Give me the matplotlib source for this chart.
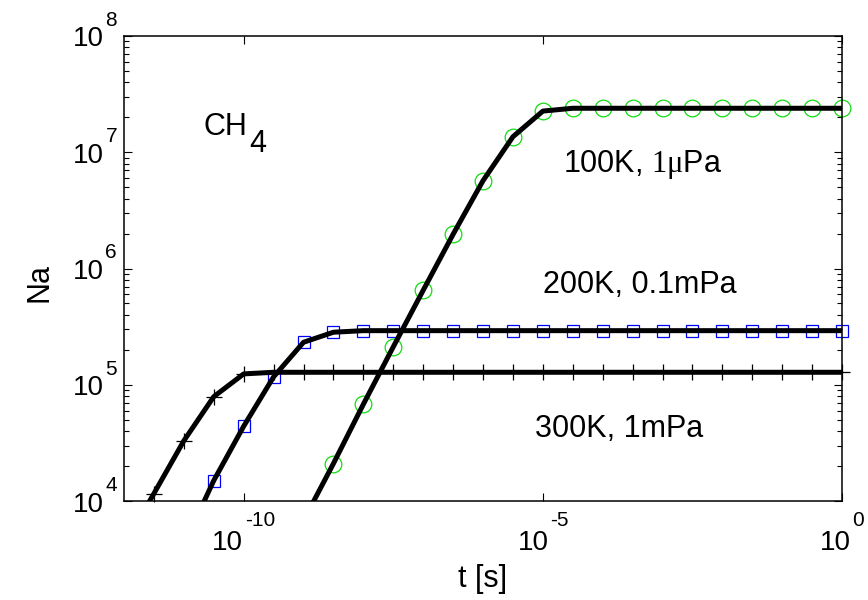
import numpy as np
import matplotlib
matplotlib.use('Agg')
import matplotlib.pyplot as plt
from matplotlib.ticker import LogLocator, NullLocator, NullFormatter
from matplotlib.transforms import offset_copy

plt.rcParams['font.family'] = ['Liberation Sans', 'DejaVu Sans']
plt.rcParams['mathtext.fontset'] = 'custom'
plt.rcParams['mathtext.rm'] = 'Liberation Serif'
plt.rcParams['mathtext.default'] = 'regular'

# time grid (half decades), shared by all three runs
t = [1e-12, 3.16e-12, 1e-11, 3.16e-11, 1e-10, 3.16e-10, 1e-9, 3.16e-9, 1e-8,
     3.16e-8, 1e-7, 3.16e-7, 1e-6, 3.16e-6, 1e-5, 3.16e-5, 1e-4, 3.16e-4,
     1e-3, 3.16e-3, 1e-2, 3.16e-2, 1e-1, 3.16e-1, 1e0]

nan = np.nan
# 300K, 1mPa
n_300 = [4.1e3, 1.16e4, 3.3e4, 7.9e4, 1.24e5, 1.28e5, 1.28e5, 1.28e5, 1.28e5,
         1.28e5, 1.28e5, 1.28e5, 1.28e5, 1.28e5, 1.28e5, 1.28e5, 1.28e5, 1.28e5,
         1.28e5, 1.28e5, 1.28e5, 1.28e5, 1.28e5, 1.28e5, 1.28e5]
# 200K, 0.1mPa
n_200 = [nan, nan, 4.2e3, 1.5e4, 4.4e4, 1.17e5, 2.32e5, 2.83e5, 2.92e5,
         2.92e5, 2.92e5, 2.92e5, 2.92e5, 2.92e5, 2.92e5, 2.92e5, 2.92e5, 2.92e5,
         2.92e5, 2.92e5, 2.92e5, 2.92e5, 2.92e5, 2.92e5, 2.92e5]
# 100K, 1uPa
n_100 = [nan, nan, nan, nan, nan, nan, 6.8e3, 2.1e4, 6.8e4,
         2.12e5, 6.5e5, 1.97e6, 5.7e6, 1.36e7, 2.26e7, 2.39e7, 2.39e7, 2.39e7,
         2.39e7, 2.39e7, 2.39e7, 2.39e7, 2.39e7, 2.39e7, 2.39e7]

xtick_exp = [-10, -5, 0]
ytick_exp = [4, 5, 6, 7, 8]
ymin, ymax = 1e4, 1e8

fig = plt.figure(figsize=(8.68, 6.0), dpi=100)
ax = fig.add_axes([0.1429, 0.165, 0.8272, 0.775])

t_arr = np.array(t)
for n, mk, col, ms in [(n_300, '+', 'black', 11),
                       (n_200, 's', '#0000ff', 8.5),
                       (n_100, 'o', '#11dd11', 12)]:
    n = np.array(n)
    ax.plot(t_arr, n, color='black', lw=3.6, zorder=3, solid_joinstyle='round')
    vis = n >= ymin
    ax.plot(t_arr[vis], n[vis], linestyle='none', marker=mk, ms=ms,
            mfc='none', mec=col, mew=0.9, zorder=2, clip_on=False)

ax.set_xscale('log')
ax.set_yscale('log')
ax.set_xlim(1e-12, 1)
ax.set_ylim(ymin, ymax)

ax.set_xticks([10.0**e for e in xtick_exp])
ax.xaxis.set_minor_locator(NullLocator())
ax.set_yticks([10.0**e for e in ytick_exp])
ax.yaxis.set_minor_locator(LogLocator(base=10, subs=np.arange(2, 10), numticks=10))
ax.yaxis.set_minor_formatter(NullFormatter())

ax.tick_params(which='both', direction='in', top=True, right=True,
               labelbottom=False, labelleft=False)
ax.tick_params(which='major', length=6, width=0.8)
ax.tick_params(which='minor', length=3.5, width=0.8)
for s in ax.spines.values():
    s.set_linewidth(1.1)

ax.set_xlabel('t [s]', fontsize=22)
ax.set_ylabel('Na', fontsize=22)
ax.xaxis.set_label_coords(0.5, -0.135)
ax.yaxis.set_label_coords(-0.097, 0.47)

ax.text(0.111, 0.787, 'CH', transform=ax.transAxes, fontsize=22, va='baseline')
ax.text(0.174, 0.751, '4', transform=ax.transAxes, fontsize=22, va='baseline')
ax.text(0.611, 0.7075, r'100K, $\mathrm{1\mu}$Pa', transform=ax.transAxes,
        fontsize=22, va='baseline')
ax.text(0.5836, 0.447, '200K, 0.1mPa', transform=ax.transAxes, fontsize=22, va='baseline')
ax.text(0.572, 0.1376, '300K, 1mPa', transform=ax.transAxes, fontsize=22, va='baseline')

# MATLAB style "10" + raised exponent tick labels
xtrans = ax.get_xaxis_transform()
ytrans = ax.get_yaxis_transform()
labels = []
for e in xtick_exp:
    b = ax.text(10.0**e, 0, '10', fontsize=20, va='baseline', transform=xtrans, clip_on=False)
    s = ax.text(10.0**e, 0, str(e), fontsize=15, va='baseline', transform=xtrans, clip_on=False)
    labels.append(('x', 10.0**e, b, s))
for e in ytick_exp:
    b = ax.text(0, 10.0**e, '10', fontsize=20, va='baseline', transform=ytrans, clip_on=False)
    s = ax.text(0, 10.0**e, str(e), fontsize=15, va='baseline', transform=ytrans, clip_on=False)
    labels.append(('y', 10.0**e, b, s))

fig.canvas.draw()
r = fig.canvas.get_renderer()
gap = 1.5
for kind, v, b, s in labels:
    wb = b.get_window_extent(r).width
    we = s.get_window_extent(r).width
    if kind == 'x':
        left = -(wb + gap + we) / 2
        b.set_transform(offset_copy(xtrans, fig, x=left, y=-49, units='dots'))
        s.set_transform(offset_copy(xtrans, fig, x=left + wb + gap, y=-25, units='dots'))
    else:
        sl = -7 - we
        s.set_transform(offset_copy(ytrans, fig, x=sl, y=10, units='dots'))
        b.set_transform(offset_copy(ytrans, fig, x=sl - gap - wb, y=-10.5, units='dots'))

fig.savefig('out.png', dpi=100)
